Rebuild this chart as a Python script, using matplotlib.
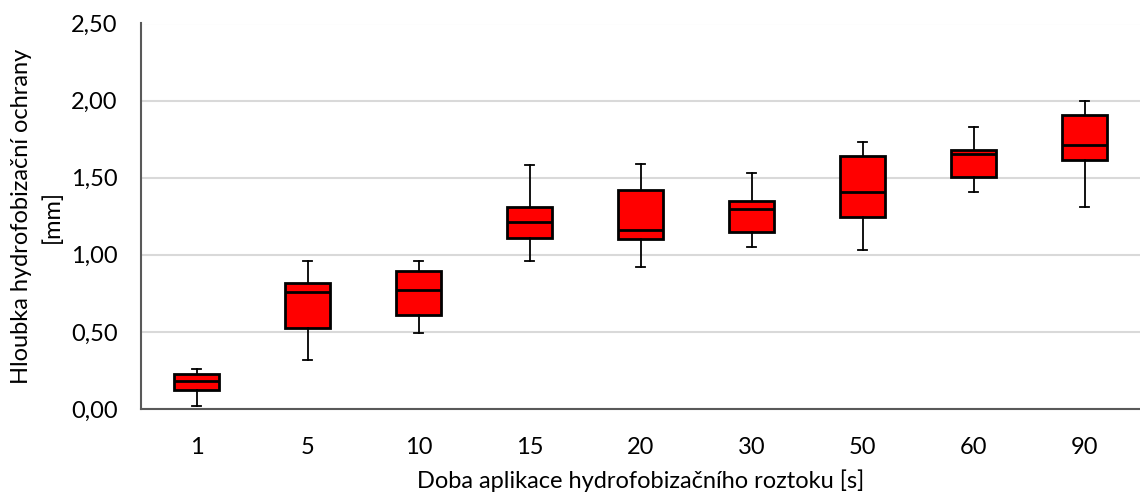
import matplotlib.pyplot as plt
from matplotlib.ticker import FuncFormatter, MultipleLocator

plt.rcParams['font.family'] = ['Lato', 'DejaVu Sans']

# values
labels = ['1', '5', '10', '15', '20', '30', '50', '60', '90']
whisker_low = [0.02, 0.32, 0.49, 0.96, 0.92, 1.05, 1.03, 1.41, 1.31]
q1 = [0.125, 0.527, 0.61, 1.11, 1.10, 1.15, 1.245, 1.507, 1.613]
median = [0.18, 0.757, 0.77, 1.21, 1.16, 1.295, 1.405, 1.654, 1.714]
q3 = [0.225, 0.817, 0.897, 1.312, 1.422, 1.351, 1.641, 1.678, 1.905]
whisker_high = [0.26, 0.96, 0.96, 1.58, 1.59, 1.528, 1.73, 1.829, 2.0]

stats = []
for i in range(len(labels)):
    stats.append({'whislo': whisker_low[i], 'q1': q1[i], 'med': median[i],
                  'q3': q3[i], 'whishi': whisker_high[i], 'fliers': []})

fig = plt.figure(figsize=(11.4, 4.92), dpi=100)
ax = fig.add_axes([141 / 1140, 1 - 409 / 492, 999 / 1140, 385.5 / 492])

ax.bxp(stats, positions=range(len(labels)), widths=0.41, patch_artist=True,
       showfliers=False, capwidths=0.08,
       boxprops=dict(facecolor='#ff0000', edgecolor='black', linewidth=2),
       medianprops=dict(color='black', linewidth=2),
       whiskerprops=dict(color='black', linewidth=1.3),
       capprops=dict(color='black', linewidth=1.3))

ax.set_xlim(-0.5, len(labels) - 0.5)
ax.set_ylim(0, 2.5)
ax.set_xticks(range(len(labels)))
ax.set_xticklabels(labels)
ax.yaxis.set_major_locator(MultipleLocator(0.5))
ax.yaxis.set_major_formatter(FuncFormatter(lambda v, p: f'{v:.2f}'.replace('.', ',')))
ax.tick_params(length=0, labelsize=17, colors='#000000')
ax.tick_params(axis='x', pad=20)
ax.tick_params(axis='y', pad=17)

ax.grid(axis='y', color='#d9d9d9', linewidth=1.5)
ax.set_axisbelow(True)
for s in ['top', 'right']:
    ax.spines[s].set_visible(False)
for s in ['left', 'bottom']:
    ax.spines[s].set_color('#595959')
    ax.spines[s].set_linewidth(1.5)

ax.set_xlabel('Doba aplikace hydrofobizačního roztoku [s]', fontsize=17, labelpad=8)
ax.set_ylabel('Hloubka hydrofobizační ochrany\n[mm]', fontsize=17, labelpad=6,
              linespacing=1.5)

fig.savefig('out.png', dpi=100)
